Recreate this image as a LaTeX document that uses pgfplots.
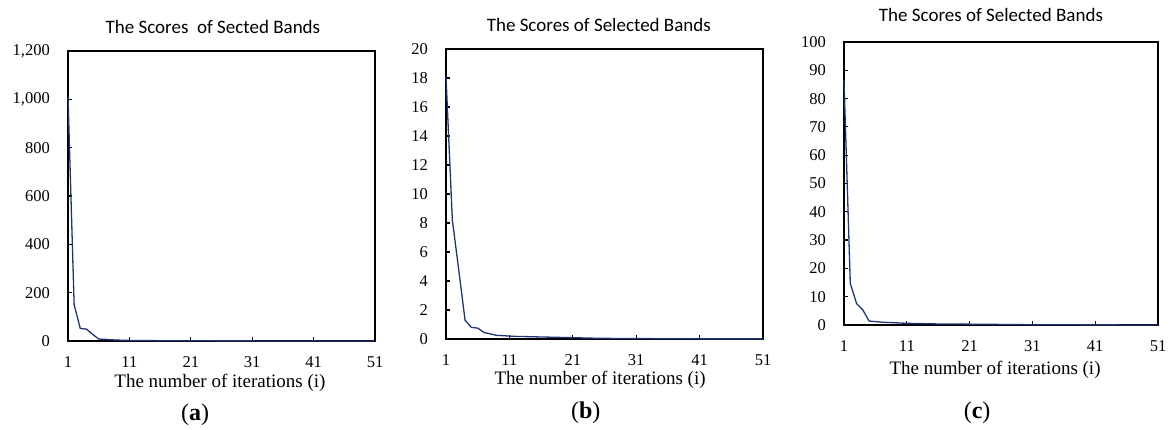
\documentclass[border=0pt]{standalone}
\usepackage{fontspec}
\setmainfont{Liberation Serif}
\newfontfamily\calibri{Carlito}
\usepackage{pgfplots}
\usepackage{pgfplotstable}
\pgfplotsset{compat=1.18}

\definecolor{navy}{RGB}{30,52,118}

% scores per iteration: a, b, c panels
\pgfplotstableread{
i a b c
1 1010 18.1 86.5
2 150 8.2 14.7
3 52 4.8 7.6
4 49 1.3 5.3
5 28 0.8 1.4
6 8 0.75 1.2
7 7 0.45 1.0
8 5 0.35 0.9
9 4 0.25 0.8
10 3 0.23 0.7
11 2.5 0.2 0.6
12 2.2 0.18 0.55
13 1.9 0.17 0.5
14 1.7 0.16 0.45
15 1.5 0.15 0.4
16 1.3 0.14 0.38
17 1.2 0.13 0.36
18 1.1 0.12 0.34
19 1.0 0.11 0.33
20 0.9 0.1 0.32
21 0.8 0.09 0.3
22 0.75 0.08 0.28
23 0.7 0.07 0.26
24 0.65 0.06 0.24
25 0.6 0.05 0.22
26 0.55 0.05 0.2
27 0.5 0.04 0.18
28 0.48 0.04 0.16
29 0.45 0.04 0.14
30 0.42 0.03 0.12
31 0.4 0.03 0.1
32 0.38 0.03 0.09
33 0.36 0.03 0.08
34 0.34 0.02 0.08
35 0.32 0.02 0.07
36 0.3 0.02 0.07
37 0.29 0.02 0.06
38 0.28 0.02 0.06
39 0.27 0.02 0.05
40 0.26 0.02 0.05
41 0.25 0.01 0.05
42 0.24 0.01 0.04
43 0.23 0.01 0.04
44 0.22 0.01 0.04
45 0.21 0.01 0.03
46 0.2 0.01 0.03
47 0.2 0.01 0.03
48 0.19 0.01 0.03
49 0.18 0.01 0.02
50 0.18 0.01 0.02
51 0.17 0.01 0.02
}\scores

\pgfplotsset{
  panel/.style={
    scale only axis,
    anchor=south west,
    clip=false,
    xmin=1, xmax=51,
    xtick={1,11,...,51},
    ymin=0,
    tick pos=left,
    tick align=inside,
    major tick length=4pt,
    major tick style={black, line width=1.2pt},
    axis line style={black, line width=2pt},
    /pgf/number format/assume math mode=true,
    /pgf/number format/1000 sep={,},
    ticklabel style={font=\fontsize{16.5}{20}\selectfont},
    yticklabel style={anchor=east, inner sep=0pt, xshift=-18pt},
    xticklabel style={anchor=north, inner sep=0pt, yshift=-15pt},
    xlabel={The number of iterations (i)},
    xlabel style={anchor=center, font=\fontsize{19}{23}\selectfont},
    title style={anchor=center, font=\calibri\fontsize{19}{23}\selectfont},
  },
  curve/.style={navy, line width=1.3pt, no markers},
}

\begin{document}
\begin{tikzpicture}
\useasboundingbox (0,0) rectangle (1169pt,430pt);

\begin{axis}[panel, at={(68pt,89pt)}, width=307pt, height=290pt,
    ymax=1200, ytick distance=200,
    title={The Scores~ of Sected Bands},
    title style={at={(axis description cs:0.472,1.062)}},
    xlabel style={at={(axis description cs:0.495,-0.145)}}]
\addplot[curve] table[x=i, y=a] {\scores};
\node[font=\fontsize{24}{28}\selectfont] at (axis description cs:0.414,-0.255) {(\textbf{a})};
\end{axis}

\begin{axis}[panel, at={(446pt,91pt)}, width=317pt, height=290pt,
    ymax=20, ytick distance=2,
    title={The Scores of Selected Bands},
    title style={at={(axis description cs:0.482,1.062)}},
    xlabel style={at={(axis description cs:0.486,-0.141)}}]
\addplot[curve] table[x=i, y=b] {\scores};
\node[font=\fontsize{24}{28}\selectfont] at (axis description cs:0.441,-0.255) {(\textbf{b})};
\end{axis}

\begin{axis}[panel, at={(844pt,105pt)}, width=314pt, height=283pt,
    ymax=100, ytick distance=10,
    title={The Scores of Selected Bands},
    title style={at={(axis description cs:0.468,1.074)}},
    xlabel style={at={(axis description cs:0.481,-0.159)}}]
\addplot[curve] table[x=i, y=c] {\scores};
\node[font=\fontsize{24}{28}\selectfont] at (axis description cs:0.424,-0.311) {(\textbf{c})};
\end{axis}
\end{tikzpicture}
\end{document}
